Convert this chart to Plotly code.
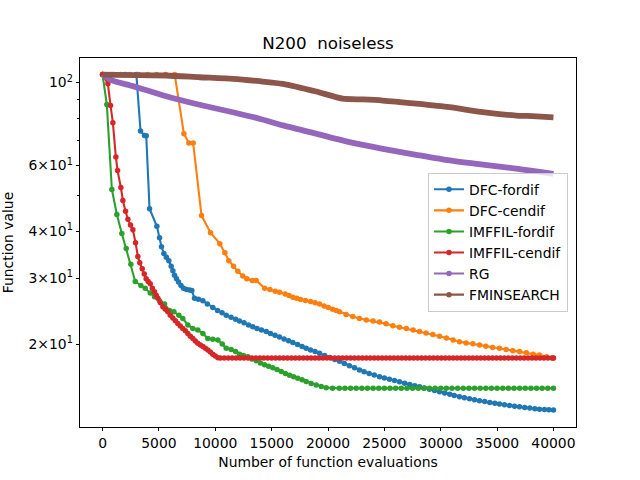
import plotly.graph_objects as go

# ---------------- data ----------------
series_names = ["DFC-fordif", "DFC-cendif", "IMFFIL-fordif", "IMFFIL-cendif", "RG", "FMINSEARCH"]
series_colors = ["#1f77b4", "#ff7f0e", "#2ca02c", "#d62728", "#9467bd", "#8c564b"]

dfc_fordif_x = [0, 1000, 2000, 3000, 3370, 3725, 3875, 4170, 4820, 5055, 5230, 5440, 5660, 5880,
                6090, 6240, 6385, 6560, 6740, 6960, 7180, 7450, 7720, 7920, 8160, 8500, 8900, 9300,
                9780, 10200, 10600, 10970, 11400, 11800, 12150, 12550, 12950, 13330, 13700, 14100,
                14520, 14900, 15300, 15700, 16100, 16500, 16880, 17300, 17700, 18060, 18450, 18850,
                19250, 19700, 20150, 20600, 21020, 21450, 21900, 22350, 22790, 23200, 23650, 24100,
                24570, 25000, 25450, 25900, 26340, 26800, 27250, 27700, 28120, 28550, 29000, 29450,
                29890, 30350, 30800, 31200, 31660, 32100, 32550, 33000, 33440, 33900, 34350, 34800,
                35210, 35650, 36100, 36550, 36990, 37450, 37900, 38350, 38760, 39200, 39600, 40000]
dfc_fordif_y = [105.0, 105.0, 105.0, 105.0, 74.2, 72.2, 72.1, 46.0, 41.3, 38.5, 36.4, 34.9, 34.1, 33.4,
                32.3, 31.4, 30.55, 29.9, 29.3, 28.7, 28.2, 28.0, 27.9, 27.8, 26.5, 26.35, 26.1, 25.6,
                25.06, 24.6, 24.25, 23.9, 23.6, 23.3, 23.07, 22.8, 22.5, 22.24, 22.03, 21.8,
                21.6, 21.35, 21.13, 20.9, 20.65, 20.42, 20.2, 19.95, 19.7, 19.5, 19.3, 19.1,
                18.9, 18.65, 18.43, 18.2, 18.0, 17.75, 17.5, 17.28, 17.05, 16.88, 16.7, 16.53,
                16.36, 16.23, 16.1, 15.98, 15.86, 15.73, 15.6, 15.49, 15.38, 15.26, 15.15, 15.03,
                14.92, 14.8, 14.69, 14.58, 14.47, 14.38, 14.29, 14.2, 14.12, 14.04, 13.97, 13.9,
                13.83, 13.77, 13.71, 13.65, 13.6, 13.54, 13.49, 13.44, 13.39, 13.37, 13.35, 13.33]

dfc_cendif_x = [0, 800, 1600, 2400, 3200, 4000, 4800, 5600, 6400, 7215, 7655, 8040, 8780, 9580,
                10400, 10850, 11200, 11620, 12000, 12440, 12800, 13280, 13630, 14390, 14850, 15320,
                15700, 16200, 16540, 16880, 17220, 17560, 18000, 18450, 18850, 19250, 19650, 20020,
                20400, 20730, 21020, 21600, 22200, 22790, 23400, 24000, 24570, 25150, 25750, 26340,
                26950, 27550, 28120, 28700, 29300, 29890, 30500, 31100, 31660, 32250, 32850, 33440,
                34000, 34600, 35210, 35800, 36400, 36990, 37600, 38200, 38760, 39400, 40000]
dfc_cendif_y = [105.0, 105.0, 105.0, 105.0, 105.0, 105.0, 105.0, 105.0, 105.0, 73.0, 68.9, 68.9, 44.1, 39.7,
                37.1, 35.1, 33.4, 32.3, 31.3, 30.4, 29.9, 29.6, 29.6, 28.2, 28.0, 27.7,
                27.5, 27.2, 26.95, 26.7, 26.5, 26.3, 26.15, 26.0, 25.8, 25.6, 25.3, 25.06,
                24.8, 24.6, 24.4, 24.0, 23.7, 23.4, 23.2, 23.05, 22.9, 22.65, 22.4, 22.2,
                22.0, 21.8, 21.6, 21.4, 21.2, 21.0, 20.75, 20.5, 20.3, 20.15, 20.05, 19.9,
                19.75, 19.6, 19.5, 19.35, 19.2, 19.1, 18.95, 18.8, 18.7, 18.5, 18.35]

imffil_fordif_x = [0, 380, 827, 1270, 1710, 2100, 2510, 2900, 3400, 3785, 4230, 4610, 5055, 5500,
                   5940, 6330, 6770, 7120, 7570, 8010, 8450, 8900, 9340, 9780, 10230, 10620, 10970,
                   11410, 11800, 12150, 12500, 12890, 13250, 13630, 14000, 14370, 14730, 15100, 15480,
                   15850, 16220, 16590, 16950, 17320, 17700, 18060, 18500, 18950, 19400, 19840, 20400,
                   21000, 21500, 22000, 22500, 23000, 23500, 24000, 24500, 25000, 25500, 26000, 26500,
                   27000, 27500, 28000, 28500, 29000, 29500, 30000, 30500, 31000, 31500, 32000, 32500,
                   33000, 33500, 34000, 34500, 35000, 35500, 36000, 36500, 37000, 37500, 38000, 38500,
                   39000, 39500, 40000]
imffil_fordif_y = [105.0, 87.4, 51.8, 44.4, 39.5, 36.0, 32.7, 29.4, 28.7, 28.2, 27.4, 26.75, 26.1, 25.6,
                   24.6, 24.4, 23.9, 23.4, 22.5, 22.0, 21.8, 21.35, 20.7, 20.6, 20.5, 20.0, 19.5,
                   19.35, 19.1, 18.8, 18.65, 18.5, 18.25, 18.05, 17.8, 17.6, 17.45, 17.3, 17.1,
                   16.9, 16.7, 16.5, 16.35, 16.2, 16.05, 15.9, 15.7, 15.55, 15.4, 15.3, 15.25,
                   15.25, 15.25, 15.25, 15.25, 15.25, 15.25, 15.25, 15.25, 15.25, 15.25, 15.25, 15.25,
                   15.25, 15.25, 15.25, 15.25, 15.25, 15.25, 15.25, 15.25, 15.25, 15.25, 15.25, 15.25,
                   15.25, 15.25, 15.25, 15.25, 15.25, 15.25, 15.25, 15.25, 15.25, 15.25, 15.25, 15.25,
                   15.25, 15.25, 15.25]

imffil_cendif_x = [0, 473, 710, 916, 1183, 1330, 1625, 1804, 2040, 2250, 2480, 2690, 2930, 3130, 3300,
                   3520, 3700, 3870, 4050, 4230, 4420, 4610, 4760, 4910, 5130, 5350, 5570, 5790, 6010,
                   6240, 6460, 6680, 6900, 7120, 7350, 7570, 7790, 8010, 8230, 8450, 8680, 8900, 9120,
                   9340, 9560, 9780, 10000, 10230, 10450, 10800, 11150, 11500, 11850, 12200, 12550,
                   12900, 13250, 13600, 13950, 14300, 14650, 15000, 15350, 15700, 16050, 16400, 16750,
                   17100, 17450, 17800, 18150, 18500, 18850, 19200, 19550, 19900, 20250, 20600, 20950,
                   21300, 21650, 22000, 22350, 22700, 23050, 23400, 23750, 24100, 24450, 24800, 25150,
                   25500, 25850, 26200, 26550, 26900, 27250, 27600, 27950, 28300, 28650, 29000, 29350,
                   29700, 30050, 30400, 30750, 31100, 31450, 31800, 32150, 32500, 32850, 33200, 33550,
                   33900, 34250, 34600, 34950, 35300, 35650, 36000, 36350, 36700, 37050, 37400, 37750,
                   38100, 38450, 38800, 39150, 39500, 39850, 40000]
imffil_cendif_y = [105.0, 99.2, 86.8, 78.1, 63.2, 58.2, 52.4, 48.4, 45.3, 43.1, 41.6, 40.4, 37.3, 34.3, 33.0,
                   31.8, 30.8, 29.9, 29.4, 29.0, 28.2, 27.6, 27.0, 26.5, 25.8, 25.15, 24.8, 24.4, 23.9,
                   23.5, 23.1, 22.7, 22.35, 22.0, 21.7, 21.35, 21.0, 20.7, 20.4, 20.1, 19.9, 19.7, 19.5,
                   19.3, 19.05, 18.8, 18.6, 18.4, 18.35, 18.35, 18.35, 18.35, 18.35, 18.35, 18.35,
                   18.35, 18.35, 18.35, 18.35, 18.35, 18.35, 18.35, 18.35, 18.35, 18.35, 18.35, 18.35,
                   18.35, 18.35, 18.35, 18.35, 18.35, 18.35, 18.35, 18.35, 18.35, 18.35, 18.35, 18.35,
                   18.35, 18.35, 18.35, 18.35, 18.35, 18.35, 18.35, 18.35, 18.35, 18.35, 18.35, 18.35,
                   18.35, 18.35, 18.35, 18.35, 18.35, 18.35, 18.35, 18.35, 18.35, 18.35, 18.35, 18.35,
                   18.35, 18.35, 18.35, 18.35, 18.35, 18.35, 18.35, 18.35, 18.35, 18.35, 18.35, 18.35,
                   18.35, 18.35, 18.35, 18.35, 18.35, 18.35, 18.35, 18.35, 18.35, 18.35, 18.35, 18.35,
                   18.35, 18.35, 18.35, 18.35, 18.35, 18.35, 18.35]

rg_x = [0, 887, 2687, 5650, 8603, 11557, 13925, 15991, 18953, 21907, 24860, 27822,
        30776, 33729, 36692, 40000]
rg_y = [105.0, 101.2, 97.8, 91.9, 87.2, 83.3, 80.0, 76.8, 73.0, 69.3, 66.5, 64.1,
        61.9, 60.3, 58.9, 57.0]

fminsearch_x = [0, 5650, 8603, 11557, 13925, 15991, 18953, 21313, 23087, 24860, 27822, 30776,
                33729, 36692, 38137, 40000]
fminsearch_y = [105.0, 104.4, 103.3, 102.3, 100.8, 99.2, 94.6, 90.5, 90.1, 89.5, 87.8, 85.9,
                83.3, 81.6, 81.3, 80.7]

x_tick_vals = [0, 5000, 10000, 15000, 20000, 25000, 30000, 35000, 40000]
x_tick_text = ["0", "5000", "10000", "15000", "20000", "25000", "30000", "35000", "40000"]
y_tick_vals = [20, 30, 40, 60, 100]
y_tick_text = ["2×10<sup>1</sup>", "3×10<sup>1</sup>", "4×10<sup>1</sup>", "6×10<sup>1</sup>", "10<sup>2</sup>"]
y_minor_vals = [50, 70, 80, 90]

title_text = "N200\u00a0 noiseless"
x_label = "Number of function evaluations"
y_label = "Function value"

# ---------------- figure ----------------
FONT = "DejaVu Sans"
LW = 2.08
MS = 5.5

fig = go.Figure()

thin_series = [
    (dfc_fordif_x, dfc_fordif_y),
    (dfc_cendif_x, dfc_cendif_y),
    (imffil_fordif_x, imffil_fordif_y),
    (imffil_cendif_x, imffil_cendif_y),
]
for i, (xs, ys) in enumerate(thin_series):
    fig.add_trace(go.Scatter(
        x=xs, y=ys, mode="lines+markers", name=series_names[i],
        line=dict(color=series_colors[i], width=LW),
        marker=dict(color=series_colors[i], size=MS, line=dict(width=0)),
    ))

# RG and FMINSEARCH: densely sampled in the original -> drawn as a thick band
for i, (xs, ys) in zip([4, 5], [(rg_x, rg_y), (fminsearch_x, fminsearch_y)]):
    fig.add_trace(go.Scatter(
        x=xs, y=ys, mode="lines", name=series_names[i], showlegend=False,
        line=dict(color=series_colors[i], width=5.8, shape="spline", smoothing=0.6),
    ))
# legend entries for them (no data drawn)
for i in [4, 5]:
    fig.add_trace(go.Scatter(
        x=[None], y=[None], mode="lines+markers", name=series_names[i],
        line=dict(color=series_colors[i], width=LW),
        marker=dict(color=series_colors[i], size=MS, line=dict(width=0)),
    ))

axis_common = dict(
    showline=True, linecolor="black", linewidth=0.8, mirror=True,
    ticks="outside", ticklen=3.5, tickwidth=0.8, tickcolor="black",
    showgrid=False, zeroline=False, automargin=False,
    tickfont=dict(family=FONT, size=13.9, color="black"),
)

fig.update_layout(
    width=640, height=480,
    paper_bgcolor="white", plot_bgcolor="white",
    margin=dict(l=80, r=64, t=58, b=53),
    font=dict(family=FONT, size=13.9, color="black"),
    title=dict(text=title_text, x=0.5125, xanchor="center", y=1 - 43 / 480, yanchor="middle",
               font=dict(family=FONT, size=16.7, color="black")),
    xaxis=dict(
        range=[-2000, 42000], tickmode="array", tickvals=x_tick_vals, ticktext=x_tick_text,
        title=dict(text=x_label, font=dict(family=FONT, size=13.9, color="black"), standoff=7),
        **axis_common,
    ),
    yaxis=dict(
        type="log", range=[1.0795, 2.0655], tickmode="array", tickvals=y_tick_vals, ticktext=y_tick_text,
        title=dict(text=y_label, font=dict(family=FONT, size=13.9, color="black"), standoff=13),
        minor=dict(tickmode="array", tickvals=y_minor_vals, ticks="outside", ticklen=2,
                   tickwidth=0.6, tickcolor="black", showgrid=False),
        **axis_common,
    ),
    showlegend=True,
    legend=dict(
        x=0.7016, y=0.689, xanchor="left", yanchor="top",
        bgcolor="rgba(255,255,255,0.8)", bordercolor="#cccccc", borderwidth=1,
        font=dict(family=FONT, size=13.9, color="black"),
        itemwidth=30, tracegroupgap=0,
    ),
)

fig.write_html("out.html", config={"displayModeBar": False},
               post_script="document.body.style.margin='0';")
